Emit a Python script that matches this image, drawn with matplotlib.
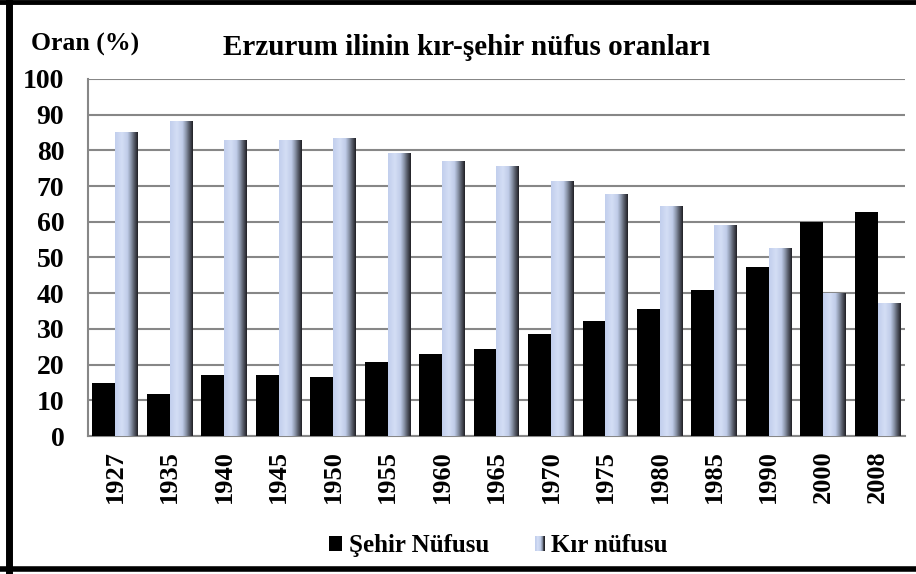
import numpy as np
import matplotlib
matplotlib.use("Agg")
import matplotlib.pyplot as plt
from matplotlib.patches import Rectangle
from matplotlib.lines import Line2D
from matplotlib.legend_handler import HandlerBase
from matplotlib.colors import LinearSegmentedColormap

years = ['1927', '1935', '1940', '1945', '1950', '1955', '1960', '1965',
         '1970', '1975', '1980', '1985', '1990', '2000', '2008']
sehir = [14.9, 11.8, 17.1, 17.1, 16.5, 20.8, 23.0, 24.4,
         28.6, 32.2, 35.6, 41.0, 47.3, 59.9, 62.7]
kir = [85.1, 88.2, 82.9, 82.9, 83.5, 79.2, 77.0, 75.6,
       71.4, 67.8, 64.4, 59.0, 52.7, 40.1, 37.3]
yticks = [0, 10, 20, 30, 40, 50, 60, 70, 80, 90, 100]

plt.rcParams['font.family'] = ['Liberation Serif', 'DejaVu Serif']
plt.rcParams['font.weight'] = 'bold'

# light blue -> dark shading across each rural bar
grad = LinearSegmentedColormap.from_list('kir', [
    (0.00, (0.76, 0.81, 0.93)),
    (0.30, (0.83, 0.87, 0.96)),
    (0.55, (0.75, 0.80, 0.91)),
    (0.70, (0.55, 0.59, 0.67)),
    (0.85, (0.33, 0.35, 0.40)),
    (1.00, (0.13, 0.13, 0.15)),
])

fig = plt.figure(figsize=(9.16, 5.74), dpi=100)
ax = fig.add_axes([0.096, 0.2404, 0.892, 0.622])

x = np.arange(len(years))
w = 0.42
ax.bar(x - w / 2, sehir, width=w, color='black', zorder=3)
kbars = ax.bar(x + w / 2, kir, width=w, color='none', zorder=3)

img = np.linspace(0, 1, 64).reshape(1, -1)
for b in kbars:
    bx, by = b.get_x(), b.get_y()
    im = ax.imshow(img, cmap=grad, aspect='auto', zorder=3,
                   extent=(bx, bx + b.get_width(), by, by + b.get_height()))
    im.set_clip_path(b)

ax.set_xlim(-0.5, len(years) - 0.5)
ax.set_ylim(0, 100)
ax.set_yticks(yticks)
ax.set_xticks(x)
ax.set_xticklabels(years, rotation=90, fontsize=19, fontweight='bold')
ax.tick_params(axis='both', length=0, pad=10)
ax.tick_params(axis='y', labelsize=20, pad=17)
for lab in ax.get_yticklabels():
    lab.set_fontweight('bold')
ax.grid(axis='y', color='#878787', lw=1.5, zorder=1)
for s in ['top', 'right']:
    ax.spines[s].set_visible(False)
for s in ['left', 'bottom']:
    ax.spines[s].set_color('#878787')
    ax.spines[s].set_linewidth(1.5)

fig.text(0.509, 0.918, 'Erzurum ilinin kır-şehir nüfus oranları',
         ha='center', va='center', fontsize=21, fontweight='bold')
fig.text(0.034, 0.922, 'Oran (%)', ha='left', va='center',
         fontsize=18.5, fontweight='bold')


class GradHandler(HandlerBase):
    def create_artists(self, legend, orig_handle, xdescent, ydescent,
                       width, height, fontsize, trans):
        n = 12
        ww = width * 0.75
        x0 = -xdescent + width - ww
        out = []
        for i in range(n):
            r = Rectangle((x0 + ww * i / n, -ydescent), ww / n, height,
                          facecolor=grad(i / (n - 1)), edgecolor='none',
                          transform=trans)
            out.append(r)
        return out


h1 = Rectangle((0, 0), 1, 1, facecolor='black')
h2 = Rectangle((0, 0), 1, 1, facecolor='#c8d3ec')
fig.legend([h1, h2], ['Şehir Nüfusu', 'Kır nüfusu'],
           loc='center', bbox_to_anchor=(0.544, 0.049), ncol=2,
           frameon=False, prop={'size': 18, 'weight': 'bold'},
           handlelength=0.55, handleheight=0.55, handletextpad=0.25,
           columnspacing=1.7, handler_map={h2: GradHandler()})

# thick frame around the chart
fig.add_artist(Line2D([0.0, 1.0], [0.9965, 0.9965], color='black', lw=3.5,
                      transform=fig.transFigure))
fig.add_artist(Line2D([0.0098, 0.0098], [0.0, 1.0], color='black', lw=5,
                      transform=fig.transFigure))
fig.add_artist(Line2D([0.0, 1.0], [0.0085, 0.0085], color='black', lw=4,
                      transform=fig.transFigure))

fig.savefig('out.png', dpi=100)
